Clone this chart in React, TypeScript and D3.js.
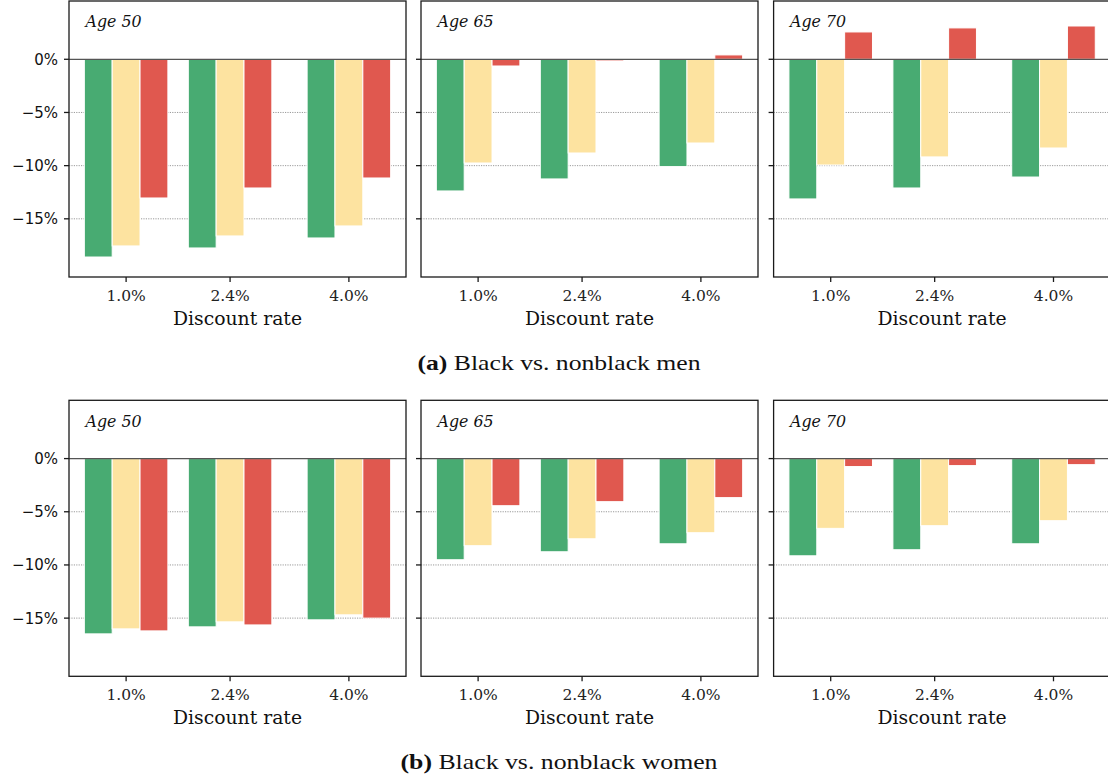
import React from "react";
import * as d3 from "d3";

const rates = [1.0, 2.4, 4.0];
const rateLabels = ["1.0%", "2.4%", "4.0%"];
const ageLabels = ["Age 50", "Age 65", "Age 70"];
const yTicks = [0, -5, -10, -15];
const yTickLabels = ["0%", "\u22125%", "\u221210%", "\u221215%"];
const seriesColors = ["#48ab72", "#fde3a0", "#e0584f"];

// Men (panel a): each panel = [green, yellow, red] series over rates
const menAge50 = [
  [-18.59, -17.74, -16.8],
  [-17.55, -16.61, -15.67],
  [-13.04, -12.1, -11.16],
];
const menAge65 = [
  [-12.38, -11.25, -10.09],
  [-9.75, -8.81, -7.87],
  [-0.63, -0.15, 0.41],
];
const menAge70 = [
  [-13.13, -12.1, -11.07],
  [-9.94, -9.18, -8.34],
  [2.57, 2.95, 3.13],
];
// Women (panel b)
const womenAge50 = [
  [-16.48, -15.82, -15.16],
  [-16.01, -15.35, -14.69],
  [-16.2, -15.64, -15.0],
];
const womenAge65 = [
  [-9.51, -8.76, -8.01],
  [-8.19, -7.54, -6.97],
  [-4.43, -4.05, -3.67],
];
const womenAge70 = [
  [-9.14, -8.57, -8.01],
  [-6.56, -6.31, -5.84],
  [-0.75, -0.66, -0.57],
];

const rows = [
  { panels: [menAge50, menAge65, menAge70], caption: "a", captionText: " Black vs. nonblack men", captionLen: 283 },
  { panels: [womenAge50, womenAge65, womenAge70], caption: "b", captionText: " Black vs. nonblack women", captionLen: 317 },
];

const W = 1108;
const H = 778;
const panelLefts = [69, 421, 773.6];
const panelW = 337;
const rowTops = [1, 400.3];
const panelH = 276;
const barW = 0.375;

function Panel({ data, left, top, age, showY }: any) {
  const x = d3.scaleLinear().domain([0.231, 4.769]).range([left, left + panelW]);
  const y = d3.scaleLinear().domain([-20.47, 5.48]).range([top + panelH, top]);
  const serif = "DejaVu Serif";
  return (
    <g>
      <defs>
        <clipPath id={`clip-${left}-${top}`}>
          <rect x={left} y={top} width={panelW} height={panelH} />
        </clipPath>
      </defs>
      {yTicks.slice(1).map((t) => (
        <line key={t} x1={left} x2={left + panelW} y1={y(t)} y2={y(t)} stroke="#9a9a9a" strokeWidth={1} strokeDasharray="1.2,1.2" />
      ))}
      <g clipPath={`url(#clip-${left}-${top})`}>
        {data.map((series: number[], si: number) =>
          series.map((v: number, ri: number) => {
            const cx = rates[ri] + (si - 1) * barW;
            const x0 = x(cx - barW / 2);
            const x1 = x(cx + barW / 2);
            const y0 = y(Math.max(0, v));
            const y1 = y(Math.min(0, v));
            return (
              <rect key={`${si}-${ri}`} x={x0} y={y0} width={x1 - x0} height={Math.max(0, y1 - y0)} fill={seriesColors[si]} stroke="#ffffff" strokeWidth={1} />
            );
          })
        )}
      </g>
      <line x1={left} x2={left + panelW} y1={y(0)} y2={y(0)} stroke="#555" strokeWidth={1.3} />
      <rect x={left} y={top} width={panelW} height={panelH} fill="none" stroke="#1a1a1a" strokeWidth={1.3} />
      {yTicks.map((t, i) => (
        <g key={t}>
          <line x1={left - 5} x2={left} y1={y(t)} y2={y(t)} stroke="#1a1a1a" strokeWidth={1.3} />
          {showY && (
            <text x={left - 11} y={y(t)} dy="0.36em" textAnchor="end" fontFamily="DejaVu Sans" fontSize={15} fill="#111">
              {yTickLabels[i]}
            </text>
          )}
        </g>
      ))}
      {rates.map((r, i) => (
        <g key={r}>
          <line x1={x(r)} x2={x(r)} y1={top + panelH} y2={top + panelH + 5} stroke="#1a1a1a" strokeWidth={1.3} />
          <text x={x(r)} y={top + panelH + 24} textAnchor="middle" fontFamily={serif} fontSize={15.5} fill="#222">
            {rateLabels[i]}
          </text>
        </g>
      ))}
      <text x={left + panelW / 2} y={top + panelH + 47.5} textAnchor="middle" fontFamily={serif} fontSize={18.8} fill="#111">
        Discount rate
      </text>
      <text x={left + 16.5} y={top + 26.3} fontFamily={serif} fontStyle="italic" fontSize={15.8} fill="#111">
        {age}
      </text>
    </g>
  );
}

export default function App() {
  return (
    <svg width={W} height={H} style={{ position: "absolute", left: 0, top: 0, background: "#fff" }}>
      <rect x={0} y={0} width={W} height={H} fill="#fff" />
      {rows.map((row, ri) => (
        <g key={ri}>
          {row.panels.map((p, pi) => (
            <Panel key={pi} data={p} left={panelLefts[pi]} top={rowTops[ri]} age={ageLabels[pi]} showY={pi === 0} />
          ))}
          <text
            x={559}
            y={rowTops[ri] + 369}
            textAnchor="middle"
            fontFamily="Liberation Serif"
            fontSize={21}
            fill="#111"
            textLength={row.captionLen}
            lengthAdjust="spacingAndGlyphs"
          >
            <tspan fontWeight="bold">({row.caption})</tspan>
            {row.captionText}
          </text>
        </g>
      ))}
    </svg>
  );
}
